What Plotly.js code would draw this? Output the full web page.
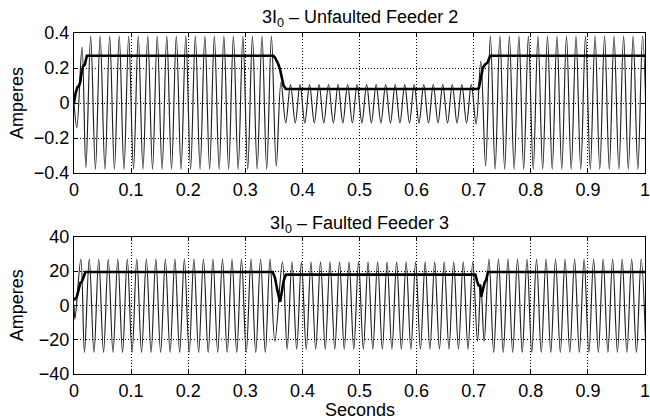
<!DOCTYPE html>
<html>
<head>
<meta charset="utf-8">
<script src="https://cdn.plot.ly/plotly-3.0.1.min.js"></script>
<style>html,body{margin:0;padding:0;background:#fff;}#chart{width:650px;height:420px;}</style>
</head>
<body>
<div id="chart"></div>
<script>
// Titles / labels
const topTitle = '3I<sub>0</sub> – Unfaulted Feeder 2';
const botTitle = '3I<sub>0</sub> – Faulted Feeder 3';
const yLabel = 'Amperes';
const xLabel = 'Seconds';

// Tick values / labels
const xTicks = [0,0.1,0.2,0.3,0.4,0.5,0.6,0.7,0.8,0.9,1];
const xTickText = ['0','0.1','0.2','0.3','0.4','0.5','0.6','0.7','0.8','0.9','1'];
const yTopTicks = [-0.4,-0.2,0,0.2,0.4];
const yTopText = ['\u22120.4','\u22120.2','0','0.2','0.4'];
const yBotTicks = [-40,-20,0,20,40];
const yBotText = ['\u221240','\u221220','0','20','40'];

// Unfaulted feeder 2: waveform extrema (time s, amperes)
const topT = [0,
 0.0050,0.0140,0.0208,0.0292,0.0375,0.0458,0.0542,0.0625,0.0708,0.0792,0.0875,0.0958,
 0.1042,0.1125,0.1208,0.1292,0.1375,0.1458,0.1542,0.1625,0.1708,0.1792,0.1875,0.1958,
 0.2042,0.2125,0.2208,0.2292,0.2375,0.2458,0.2542,0.2625,0.2708,0.2792,0.2875,0.2958,
 0.3042,0.3125,0.3208,0.3292,0.3375,0.3458,0.3542,0.3625,0.3708,0.3792,0.3875,0.3958,
 0.4042,0.4125,0.4208,0.4292,0.4375,0.4458,0.4542,0.4625,0.4708,0.4792,0.4875,0.4958,
 0.5042,0.5125,0.5208,0.5292,0.5375,0.5458,0.5542,0.5625,0.5708,0.5792,0.5875,0.5958,
 0.6042,0.6125,0.6208,0.6292,0.6375,0.6458,0.6542,0.6625,0.6708,0.6792,0.6875,0.6958,
 0.7042,0.7125,0.7208,0.7292,0.7375,0.7458,0.7542,0.7625,0.7708,0.7792,0.7875,0.7958,
 0.8042,0.8125,0.8208,0.8292,0.8375,0.8458,0.8542,0.8625,0.8708,0.8792,0.8875,0.8958,
 0.9042,0.9125,0.9208,0.9292,0.9375,0.9458,0.9542,0.9625,0.9708,0.9792,0.9875,0.9958,
 1.0042];
const topV = [0,
 -0.14,0.32,-0.37,0.383,-0.378,0.383,-0.378,0.383,-0.378,0.383,-0.378,0.383,
 -0.378,0.383,-0.378,0.383,-0.378,0.383,-0.378,0.383,-0.378,0.383,-0.378,0.383,
 -0.378,0.383,-0.378,0.383,-0.378,0.383,-0.378,0.383,-0.378,0.383,-0.378,0.383,
 -0.378,0.383,-0.378,0.383,-0.378,0.383,-0.36,0.12,-0.114,0.106,-0.114,0.106,
 -0.114,0.106,-0.114,0.106,-0.114,0.106,-0.114,0.106,-0.114,0.106,-0.114,0.106,
 -0.114,0.106,-0.114,0.106,-0.114,0.106,-0.114,0.106,-0.114,0.106,-0.114,0.106,
 -0.114,0.106,-0.114,0.106,-0.114,0.106,-0.114,0.106,-0.114,0.106,-0.114,0.106,
 -0.12,0.24,-0.36,0.383,-0.378,0.383,-0.378,0.383,-0.378,0.383,-0.378,0.383,
 -0.378,0.383,-0.378,0.383,-0.378,0.383,-0.378,0.383,-0.378,0.383,-0.378,0.383,
 -0.378,0.383,-0.378,0.383,-0.378,0.383,-0.378,0.383,-0.378,0.383,-0.378,0.383,
 -0.378];
// Unfaulted feeder 2: RMS trace
const topRmsT = [0,0.003,0.006,0.009,0.011,0.013,0.016,0.019,0.0225,0.349,0.352,0.355,0.358,0.361,0.364,0.367,0.371,0.706,0.709,0.712,0.716,0.72,0.724,0.729,1];
const topRmsV = [0,0.06,0.09,0.10,0.12,0.17,0.21,0.22,0.27,0.27,0.26,0.24,0.22,0.19,0.14,0.10,0.08,0.08,0.085,0.13,0.20,0.22,0.23,0.27,0.27];

// Faulted feeder 3: waveform extrema (time s, amperes)
const botT = [0,
 0.0017,0.0120,0.0183,0.0267,0.0350,0.0433,0.0517,0.0600,0.0683,0.0767,0.0850,0.0933,
 0.1017,0.1100,0.1183,0.1267,0.1350,0.1433,0.1517,0.1600,0.1683,0.1767,0.1850,0.1933,
 0.2017,0.2100,0.2183,0.2267,0.2350,0.2433,0.2517,0.2600,0.2683,0.2767,0.2850,0.2933,
 0.3017,0.3100,0.3183,0.3267,0.3350,0.3433,0.3517,
 0.3650,0.3733,0.3817,0.3900,0.3983,0.4067,0.4150,0.4233,0.4317,0.4400,0.4483,0.4567,
 0.4650,0.4733,0.4817,0.4900,0.4983,0.5067,0.5150,0.5233,0.5317,0.5400,0.5483,0.5567,
 0.5650,0.5733,0.5817,0.5900,0.5983,0.6067,0.6150,0.6233,0.6317,0.6400,0.6483,0.6567,
 0.6650,0.6733,0.6817,0.6900,0.6983,0.7067,
 0.7125,
 0.7183,0.7267,0.7350,0.7433,0.7517,0.7600,0.7683,0.7767,0.7850,0.7933,
 0.8017,0.8100,0.8183,0.8267,0.8350,0.8433,0.8517,0.8600,0.8683,0.8767,0.8850,0.8933,
 0.9017,0.9100,0.9183,0.9267,0.9350,0.9433,0.9517,0.9600,0.9683,0.9767,0.9850,0.9933,
 1.0017];
const botV = [0,
 -8,27,-27.5,27,-27.5,27,-27.5,27,-27.5,27,-27.5,27,
 -27.5,27,-27.5,27,-27.5,27,-27.5,27,-27.5,27,-27.5,27,
 -27.5,27,-27.5,27,-27.5,27,-27.5,27,-27.5,27,-27.5,27,
 -27.5,27,-27.5,27,-27.5,27,-21,
 25.3,-25.6,25.3,-25.6,25.3,-25.6,25.3,-25.6,25.3,-25.6,25.3,-25.6,
 25.3,-25.6,25.3,-25.6,25.3,-25.6,25.3,-25.6,25.3,-25.6,25.3,-25.6,
 25.3,-25.6,25.3,-25.6,25.3,-25.6,25.3,-25.6,25.3,-25.6,25.3,-25.6,
 25.3,-25.6,25.3,-25.6,25.3,-21,
 12,
 -21,27,-27.5,27,-27.5,27,-27.5,27,-27.5,27,
 -27.5,27,-27.5,27,-27.5,27,-27.5,27,-27.5,27,-27.5,27,
 -27.5,27,-27.5,27,-27.5,27,-27.5,27,-27.5,27,-27.5,27,
 -27.5];
// Faulted feeder 3: RMS trace
const botRmsT = [0,0.005,0.008,0.011,0.014,0.017,0.02,0.348,0.352,0.356,0.359,0.361,0.364,0.367,0.371,0.703,0.706,0.709,0.711,0.713,0.716,0.719,0.722,0.725,1];
const botRmsV = [3,5,9,13,14,17,19.4,19.4,16,9,4,2,8,14,17.9,17.9,14,11,12,5,9,13,15,19.4,19.4];

const FONT = 'Liberation Sans, Arial, Helvetica, sans-serif';
const FS = 18;
const waveStyle = {color:'#1e1e1e', width:1.15, shape:'spline', smoothing:1};
const rmsStyle = {color:'#000', width:2.6};

const traces = [
 {x:topT, y:topV, xaxis:'x', yaxis:'y', mode:'lines', line:waveStyle, hoverinfo:'skip'},
 {x:topRmsT, y:topRmsV, xaxis:'x', yaxis:'y', mode:'lines', line:rmsStyle, hoverinfo:'skip'},
 {x:botT, y:botV, xaxis:'x2', yaxis:'y2', mode:'lines', line:waveStyle, hoverinfo:'skip'},
 {x:botRmsT, y:botRmsV, xaxis:'x2', yaxis:'y2', mode:'lines', line:rmsStyle, hoverinfo:'skip'}
];

const axBase = {
 showline:true, linecolor:'#000', linewidth:1, mirror:'ticks',
 ticks:'inside', ticklen:4, tickwidth:1, tickcolor:'#000',
 showgrid:true, gridcolor:'#000', gridwidth:1, griddash:'1px,2px',
 zeroline:false, tickmode:'array', ticklabeloverflow:'allow',
 tickfont:{family:FONT, size:FS, color:'#000'}
};
const topDom = [0.5894, 1];
const botDom = [0, 0.4027];

const layout = {
 width:650, height:420,
 margin:{l:74, r:5, t:33, b:46},
 paper_bgcolor:'#fff', plot_bgcolor:'#fff',
 showlegend:false,
 font:{family:FONT, size:FS, color:'#000'},
 xaxis:Object.assign({}, axBase, {domain:[0,1], range:[0,1], tickvals:xTicks, ticktext:xTickText, anchor:'y'}),
 yaxis:Object.assign({}, axBase, {domain:topDom, range:[-0.4,0.4], tickvals:yTopTicks, ticktext:yTopText, anchor:'x'}),
 xaxis2:Object.assign({}, axBase, {domain:[0,1], range:[0,1], tickvals:xTicks, ticktext:xTickText, anchor:'y2'}),
 yaxis2:Object.assign({}, axBase, {domain:botDom, range:[-40,40], tickvals:yBotTicks, ticktext:yBotText, anchor:'x2'}),
 annotations:[
  {text:topTitle, xref:'paper', yref:'paper', x:0.5, y:topDom[1], xanchor:'center', yanchor:'bottom', yshift:1, showarrow:false, font:{family:FONT, size:FS}},
  {text:botTitle, xref:'paper', yref:'paper', x:0.5, y:botDom[1], xanchor:'center', yanchor:'bottom', yshift:-1, showarrow:false, font:{family:FONT, size:FS}},
  {text:yLabel, xref:'paper', yref:'paper', x:0, y:(topDom[0]+topDom[1])/2, xshift:-57, textangle:-90, xanchor:'center', yanchor:'middle', showarrow:false, font:{family:FONT, size:FS}},
  {text:yLabel, xref:'paper', yref:'paper', x:0, y:(botDom[0]+botDom[1])/2, xshift:-57, textangle:-90, xanchor:'center', yanchor:'middle', showarrow:false, font:{family:FONT, size:FS}},
  {text:xLabel, xref:'paper', yref:'paper', x:0.5, y:0, yshift:-24, xanchor:'center', yanchor:'top', showarrow:false, font:{family:FONT, size:FS}}
 ]
};

Plotly.newPlot('chart', traces, layout, {staticPlot:true, displayModeBar:false});
</script>
</body>
</html>
